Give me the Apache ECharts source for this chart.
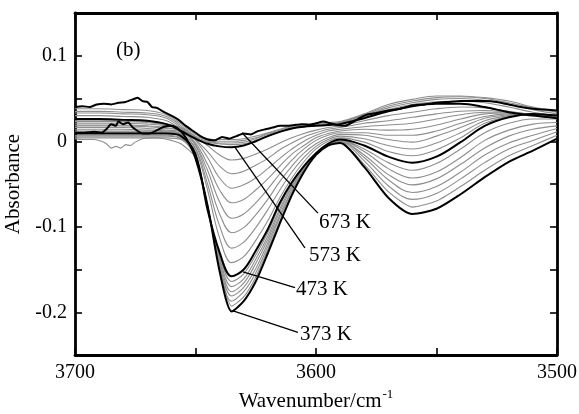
<!DOCTYPE html>
<html>
<head>
<meta charset="utf-8">
<script src="https://cdn.jsdelivr.net/npm/echarts@6/dist/echarts.min.js"></script>
<style>html,body{margin:0;padding:0;background:#fff}#c{width:579px;height:414px}</style>
</head>
<body>
<div id="c"></div>
<script>
// Shared wavenumber grid (cm^-1) for smooth curves
const wavenumbers = [3700,3690,3680,3670,3662,3656,3650,3645,3640,3635,3630,3625,3620,3615,3610,3605,3600,3595,3590,3580,3570,3560,3550,3540,3530,3520,3510,3500];

// Black labelled curves
const w373 = [3700,3696,3692,3689,3687,3685,3683,3682,3680,3678,3676,3674,3672,3669,3666,3663,3660,3657,3654,3650,3645,3640,3635,3630,3625,3620,3615,3610,3605,3600,3595,3590,3580,3570,3560,3550,3540,3530,3520,3510,3500];
const abs373 = [0.010,0.010,0.011,0.010,0.014,0.020,0.018,0.023,0.020,0.022,0.016,0.012,0.009,0.009,0.013,0.017,0.018,0.014,0.004,-0.020,-0.075,-0.152,-0.199,-0.187,-0.164,-0.131,-0.096,-0.063,-0.036,-0.016,-0.005,-0.002,-0.030,-0.066,-0.085,-0.079,-0.062,-0.042,-0.024,-0.011,0.003];
const abs473 = [0.009,0.009,0.009,0.009,0.009,0.006,-0.015,-0.080,-0.130,-0.158,-0.150,-0.128,-0.103,-0.072,-0.048,-0.029,-0.014,-0.003,0.002,-0.005,-0.018,-0.025,-0.018,-0.001,0.018,0.028,0.032,0.030];
const abs573 = [0.026,0.026,0.025,0.024,0.020,0.012,0.003,-0.003,-0.006,-0.007,-0.005,0.000,0.006,0.011,0.015,0.017,0.018,0.019,0.020,0.027,0.035,0.041,0.044,0.044,0.040,0.034,0.030,0.027];
const w673 = [3700,3697,3694,3691,3688,3685,3682,3679,3676,3674,3672,3670,3668,3666,3663,3660,3657,3654,3651,3648,3645,3642,3639,3636,3633,3630,3627,3624,3621,3618,3615,3612,3609,3606,3603,3600,3597,3594,3591,3588,3585,3582,3579,3575,3570,3565,3560,3555,3550,3545,3540,3535,3530,3525,3520,3515,3510,3505,3500];
const abs673 = [0.040,0.041,0.040,0.043,0.044,0.043,0.045,0.046,0.049,0.051,0.047,0.046,0.040,0.039,0.034,0.030,0.025,0.018,0.012,0.006,0.002,0.001,0.005,0.003,0.006,0.009,0.008,0.012,0.014,0.016,0.018,0.018,0.019,0.020,0.019,0.021,0.023,0.021,0.019,0.018,0.022,0.027,0.031,0.033,0.036,0.038,0.042,0.043,0.045,0.046,0.047,0.047,0.047,0.046,0.043,0.040,0.038,0.037,0.036];

// Gray curves between 373 K and 473 K
const wA1 = [3700,3696,3692,3689,3687,3685,3683,3681,3679,3677,3675,3672,3669,3666,3663,3660,3656,3650,3645,3640,3635,3630,3625,3620,3615,3610,3605,3600,3595,3590,3580,3570,3560,3550,3540,3530,3520,3510,3500];
const absA1 = [0.003,0.002,0.002,0.000,-0.003,-0.008,-0.006,-0.008,-0.004,-0.005,-0.001,0.003,0.004,0.004,0.003,0.001,-0.003,-0.019,-0.075,-0.149,-0.193,-0.182,-0.159,-0.127,-0.093,-0.061,-0.035,-0.016,-0.005,-0.001,-0.027,-0.059,-0.077,-0.070,-0.053,-0.034,-0.017,-0.005,0.007];
const absA2 = [0.006,0.006,0.006,0.006,0.006,0.003,-0.019,-0.076,-0.146,-0.187,-0.176,-0.154,-0.123,-0.089,-0.059,-0.034,-0.015,-0.004,-0.001,-0.023,-0.052,-0.068,-0.061,-0.044,-0.025,-0.009,0.001,0.011];
const absA3 = [0.012,0.012,0.012,0.012,0.011,0.008,-0.018,-0.076,-0.143,-0.181,-0.171,-0.149,-0.119,-0.086,-0.057,-0.033,-0.015,-0.004,0.000,-0.019,-0.045,-0.060,-0.053,-0.036,-0.016,-0.002,0.007,0.015];
const absA4 = [0.004,0.004,0.004,0.004,0.004,0.002,-0.017,-0.077,-0.139,-0.176,-0.166,-0.143,-0.115,-0.082,-0.054,-0.032,-0.015,-0.004,0.000,-0.016,-0.039,-0.051,-0.044,-0.027,-0.008,0.006,0.014,0.018];
const absA5 = [0.010,0.010,0.010,0.010,0.010,0.007,-0.016,-0.077,-0.136,-0.170,-0.161,-0.138,-0.111,-0.079,-0.052,-0.031,-0.015,-0.004,0.001,-0.012,-0.032,-0.043,-0.036,-0.019,0.001,0.013,0.020,0.022];
const absA6 = [0.007,0.007,0.007,0.007,0.007,0.004,-0.016,-0.078,-0.133,-0.164,-0.155,-0.133,-0.107,-0.075,-0.050,-0.030,-0.014,-0.003,0.001,-0.009,-0.025,-0.034,-0.026,-0.009,0.010,0.021,0.026,0.026];

// Gray curves between 473 K and 573 K
const absB1 = [0.011,0.011,0.011,0.011,0.010,0.008,-0.010,-0.057,-0.113,-0.142,-0.135,-0.116,-0.093,-0.066,-0.043,-0.024,-0.009,0.000,0.004,-0.001,-0.012,-0.017,-0.010,0.004,0.021,0.029,0.032,0.030];
const absB2 = [0.014,0.014,0.014,0.013,0.012,0.009,-0.008,-0.050,-0.099,-0.125,-0.118,-0.101,-0.080,-0.057,-0.036,-0.019,-0.006,0.002,0.006,0.003,-0.005,-0.009,-0.002,0.010,0.024,0.030,0.032,0.029];
const absB3 = [0.016,0.016,0.016,0.015,0.013,0.011,-0.005,-0.042,-0.085,-0.107,-0.101,-0.086,-0.068,-0.047,-0.029,-0.014,-0.003,0.004,0.008,0.007,0.002,-0.001,0.006,0.016,0.027,0.031,0.032,0.029];
const absB4 = [0.018,0.018,0.018,0.017,0.015,0.012,-0.004,-0.034,-0.071,-0.090,-0.085,-0.072,-0.056,-0.038,-0.022,-0.009,0.001,0.007,0.010,0.010,0.007,0.007,0.012,0.021,0.029,0.032,0.032,0.029];
const absB5 = [0.019,0.019,0.019,0.018,0.016,0.012,-0.002,-0.027,-0.057,-0.072,-0.068,-0.057,-0.044,-0.029,-0.015,-0.005,0.004,0.009,0.012,0.014,0.013,0.014,0.019,0.026,0.032,0.033,0.031,0.028];
const absB6 = [0.021,0.021,0.021,0.020,0.018,0.014,0.001,-0.019,-0.043,-0.055,-0.051,-0.043,-0.032,-0.020,-0.009,0.000,0.007,0.012,0.014,0.017,0.019,0.021,0.026,0.031,0.034,0.034,0.031,0.028];
const absB7 = [0.023,0.023,0.023,0.022,0.019,0.015,0.002,-0.012,-0.029,-0.038,-0.035,-0.028,-0.020,-0.010,-0.002,0.005,0.010,0.014,0.016,0.021,0.024,0.028,0.032,0.035,0.036,0.034,0.031,0.028];
const absB8 = [0.024,0.024,0.024,0.023,0.020,0.016,0.005,-0.005,-0.016,-0.022,-0.020,-0.015,-0.009,-0.002,0.004,0.009,0.013,0.016,0.018,0.024,0.030,0.034,0.038,0.040,0.039,0.035,0.031,0.027];

// Gray curves between 573 K and 673 K
const absC1 = [0.030,0.030,0.029,0.028,0.024,0.014,0.004,-0.001,-0.003,-0.004,-0.003,0.001,0.006,0.011,0.015,0.017,0.019,0.020,0.021,0.029,0.037,0.043,0.046,0.047,0.045,0.040,0.034,0.030];
const absC2 = [0.033,0.033,0.032,0.031,0.027,0.016,0.005,0.000,-0.002,-0.002,-0.001,0.003,0.008,0.012,0.016,0.018,0.019,0.020,0.022,0.030,0.039,0.045,0.049,0.050,0.048,0.043,0.037,0.032];
const absC3 = [0.035,0.035,0.034,0.033,0.029,0.018,0.006,0.002,0.000,0.000,0.001,0.004,0.009,0.013,0.017,0.019,0.020,0.021,0.022,0.031,0.041,0.047,0.051,0.052,0.050,0.045,0.039,0.034];
const absC4 = [0.038,0.038,0.037,0.036,0.031,0.020,0.008,0.003,0.002,0.002,0.003,0.006,0.010,0.014,0.018,0.020,0.021,0.022,0.023,0.032,0.043,0.049,0.053,0.053,0.051,0.047,0.040,0.035];

// Annotations: label text, leader start [w, A], leader end [w, A], text anchor [w, A]
const tempLabels = ['673 K','573 K','473 K','373 K'];
const leaderStart = [[3630.7,0.010],[3633.6,-0.0073],[3630.3,-0.1527],[3634.4,-0.1985]];
const leaderEnd = [[3599.2,-0.0841],[3604.6,-0.1248],[3608.7,-0.1712],[3607.5,-0.2236]];
const labelAnchor = [[3598.8,-0.0945],[3602.9,-0.134],[3608.3,-0.1729],[3606.6,-0.2259]];

const xTicks = [3700, 3600, 3500];

const pair = (ws, vs) => ws.map((w, i) => [w, vs[i]]);
const font = 'Liberation Serif, Times New Roman, serif';

const grayCurves = [
  pair(wA1, absA1), pair(wavenumbers, absA2), pair(wavenumbers, absA3), pair(wavenumbers, absA4), pair(wavenumbers, absA5), pair(wavenumbers, absA6),
  pair(wavenumbers, absB1), pair(wavenumbers, absB2), pair(wavenumbers, absB3), pair(wavenumbers, absB4), pair(wavenumbers, absB5), pair(wavenumbers, absB6), pair(wavenumbers, absB7), pair(wavenumbers, absB8),
  pair(wavenumbers, absC1), pair(wavenumbers, absC2), pair(wavenumbers, absC3), pair(wavenumbers, absC4)
];
const blackCurves = [
  {d: pair(w373, abs373), s: 0.25},
  {d: pair(wavenumbers, abs473), s: 0.35},
  {d: pair(wavenumbers, abs573), s: 0.35},
  {d: pair(w673, abs673), s: 0.15}
];

const series = [];
grayCurves.forEach((d, i) => series.push({
  type: 'line', data: d, smooth: i === 0 ? 0.2 : 0.35, symbol: 'none', silent: true,
  lineStyle: {color: '#8e8e8e', width: 1.1}, z: 2
}));
blackCurves.forEach(c => series.push({
  type: 'line', data: c.d, smooth: c.s, symbol: 'none', silent: true,
  lineStyle: {color: '#000', width: 2}, z: 3
}));
tempLabels.forEach((t, i) => series.push({
  type: 'line', data: [leaderStart[i], leaderEnd[i]], symbol: 'none', silent: true,
  lineStyle: {color: '#000', width: 1.3}, z: 4
}));
series.push({
  type: 'scatter', symbolSize: 0, silent: true, z: 5,
  itemStyle: {color: '#000', opacity: 1},
  data: tempLabels.map((t, i) => ({name: t, value: labelAnchor[i]})),
  label: {show: true, position: 'right', distance: 0, formatter: p => p.name,
    fontSize: 21, fontFamily: font, color: '#000', opacity: 1, textBorderWidth: 0}
});

const axisLineStyle = {color: '#000', width: 2.8};
const tickStyle = {inside: true, length: 7, lineStyle: {color: '#000', width: 1.6}};

const chart = echarts.init(document.getElementById('c'));
chart.setOption({
  animation: false,
  backgroundColor: '#fff',
  title: {text: '(b)', left: 111, top: 35, textStyle: {fontSize: 21, fontWeight: 'normal', fontFamily: font, color: '#000'}},
  grid: {left: 75, right: 22, top: 13, bottom: 59, containLabel: false, outerBoundsMode: 'none'},
  xAxis: [
    {type: 'value', min: 3500, max: 3700, interval: 50, inverse: true, position: 'bottom',
     axisLine: {onZero: false, lineStyle: axisLineStyle}, axisTick: tickStyle, splitLine: {show: false},
     axisLabel: {fontSize: 20, fontFamily: font, color: '#000', margin: 8,
       formatter: v => xTicks.indexOf(v) >= 0 ? String(v) : ''},
     name: '{a|Wavenumber/cm}{b|-1}', nameLocation: 'middle', nameGap: 32,
     nameTextStyle: {rich: {
       a: {fontSize: 21, fontFamily: font, color: '#000', verticalAlign: 'bottom'},
       b: {fontSize: 13, fontFamily: font, color: '#000', verticalAlign: 'bottom', padding: [0, 0, 11, 1]}
     }}},
    {type: 'value', min: 3500, max: 3700, interval: 50, inverse: true, position: 'top',
     axisLine: {onZero: false, lineStyle: axisLineStyle}, axisTick: tickStyle,
     axisLabel: {show: false}, splitLine: {show: false}}
  ],
  yAxis: [
    {type: 'value', min: -0.25, max: 0.15, interval: 0.05, position: 'left',
     axisLine: {onZero: false, show: true, lineStyle: axisLineStyle}, axisTick: {show: true, ...tickStyle}, splitLine: {show: false},
     axisLabel: {fontSize: 20, fontFamily: font, color: '#000', margin: 8,
       formatter: v => { const r = Math.round(v * 100); return r % 10 === 0 ? String(r / 100) : ''; }},
     name: 'Absorbance', nameLocation: 'middle', nameRotate: 90, nameGap: 50,
     nameTextStyle: {fontSize: 21, fontFamily: font, color: '#000'}},
    {type: 'value', min: -0.25, max: 0.15, interval: 0.05, position: 'right',
     axisLine: {onZero: false, show: true, lineStyle: axisLineStyle}, axisTick: {show: true, ...tickStyle},
     axisLabel: {show: false}, splitLine: {show: false}}
  ],
  series: series
});
</script>
</body>
</html>
